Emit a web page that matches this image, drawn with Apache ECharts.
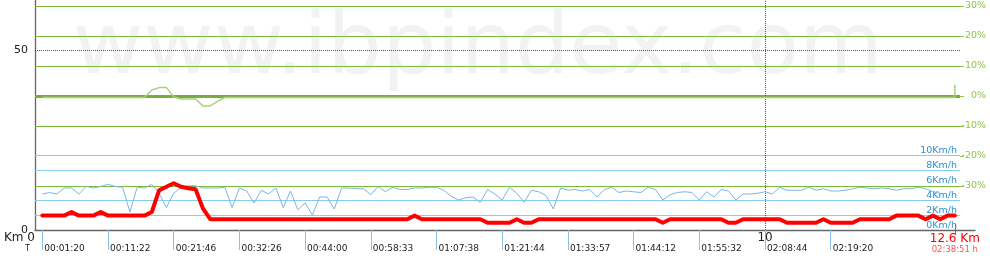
<!DOCTYPE html>
<html><head><meta charset="utf-8">
<script src="https://cdn.jsdelivr.net/npm/echarts@6/dist/echarts.min.js"></script>
<style>html,body{margin:0;padding:0;background:#fff}#c{width:990px;height:270px}</style>
</head><body><div id="c"></div>
<script>
// ---- data ----
const distKm = [
 0.1,0.2,0.3,0.4,0.5,0.6,0.7,0.8,0.9,1.0,
 1.1,1.2,1.3,1.4,1.5,1.6,1.7,1.8,1.9,2.0,
 2.1,2.2,2.3,2.4,2.5,2.6,2.7,2.8,2.9,3.0,
 3.1,3.2,3.3,3.4,3.5,3.6,3.7,3.8,3.9,4.0,
 4.1,4.2,4.3,4.4,4.5,4.6,4.7,4.8,4.9,5.0,
 5.1,5.2,5.3,5.4,5.5,5.6,5.7,5.8,5.9,6.0,
 6.1,6.2,6.3,6.4,6.5,6.6,6.7,6.8,6.9,7.0,
 7.1,7.2,7.3,7.4,7.5,7.6,7.7,7.8,7.9,8.0,
 8.1,8.2,8.3,8.4,8.5,8.6,8.7,8.8,8.9,9.0,
 9.1,9.2,9.3,9.4,9.5,9.6,9.7,9.8,9.9,10.0,
 10.1,10.2,10.3,10.4,10.5,10.6,10.7,10.8,10.9,11.0,
 11.1,11.2,11.3,11.4,11.5,11.6,11.7,11.8,11.9,12.0,
 12.1,12.2,12.3,12.4,12.5,12.6
];
const altitudeM = [
 4,4,4,4,5,4,4,4,5,4,
 4,4,4,4,4,5,11,12,13,12,
 11.6,11.3,6,3,3,3,3,3,3,3,
 3,3,3,3,3,3,3,3,3,3,
 3,3,3,3,3,3,3,3,3,3,
 3,4,3,3,3,3,3,3,3,3,
 3,2,2,2,2,3,2,2,3,3,
 3,3,3,3,3,3,3,3,3,3,
 3,3,3,3,3,2,3,3,3,3,
 3,3,3,3,2,2,3,3,3,3,
 3,3,2,2,2,2,2,3,2,2,
 2,2,3,3,3,3,3,4,4,4,
 4,3,4,3,4,4
];
const speedKmh = [
 4.8,5.0,4.8,5.6,5.6,4.8,5.8,5.6,5.8,6.1,
 5.8,5.7,2.4,5.7,5.6,6.1,4.9,3.0,4.9,5.7,
 5.9,5.9,5.6,5.6,5.6,5.7,3.0,5.6,5.2,3.6,
 5.3,4.8,5.6,3.0,5.2,2.7,3.6,2.0,4.4,4.4,
 2.8,5.6,5.6,5.5,5.5,4.7,5.8,5.1,5.7,5.4,
 5.4,5.6,5.6,5.7,5.7,5.3,4.5,4.0,4.3,4.4,
 3.7,5.4,4.8,4.0,5.7,4.9,3.7,5.3,5.1,4.6,
 2.8,5.6,5.3,5.4,5.2,5.4,4.4,5.4,5.7,5.0,
 5.2,5.1,5.0,5.7,5.4,4.0,4.7,5.0,5.1,5.0,
 4.0,5.1,4.4,5.4,5.2,4.0,4.8,4.8,4.9,5.1,
 4.8,5.7,5.3,5.3,5.3,5.7,5.3,5.5,5.2,5.2,
 5.3,5.5,5.7,5.6,5.5,5.6,5.5,5.3,5.5,5.5,
 5.7,5.5,5.1,4.9
];
const gradKm  = [0.1, 1.5, 1.6, 1.7, 1.8, 1.9, 2.0, 2.2, 2.3, 2.4, 2.5, 2.6, 12.6, 12.6];
const gradPct = [-0.5,-0.5, 2.0, 2.8, 2.8,-0.3,-1.0,-1.0,-3.3,-3.3,-1.8,-0.5,-0.5, 3.7];

const altTicks   = [0, 50];
const gradTicks  = [30, 20, 10, 0, -10, -20, -30];
const speedTicks = [0, 2, 4, 6, 8, 10];
const kmTicks    = [0, 10];
const timeKm     = [0.1, 1.0, 1.9, 2.8, 3.7, 4.6, 5.5, 6.4, 7.3, 8.2, 9.1, 10.0, 10.9];
const timeLabels = ['00:01:20','00:11:22','00:21:46','00:32:26','00:44:00','00:58:33','01:07:38',
                    '01:21:44','01:33:57','01:44:12','01:55:32','02:08:44','02:19:20'];
const totalKm = 12.6;
const totalDistLabel = '12.6 Km';
const totalTimeLabel = '02:38:51 h';

// ---- chart ----
const FONT = 'DejaVu Sans';
const X_MAX = 12.671;
const chart = echarts.init(document.getElementById('c'), null, {renderer:'canvas'});
const noLine = {show:false, onZero:false};
const option = {
  animation:false,
  backgroundColor:'#ffffff',
  grid:[{left:35,right:30,top:0,bottom:40},{left:35,right:15,top:0,bottom:40}],
  xAxis:[
    {type:'value',gridIndex:0,position:'bottom',min:0,max:X_MAX,
     axisLine:noLine,axisTick:{show:false},splitLine:{show:false},
     axisLabel:{customValues:kmTicks,margin:2,fontSize:12,fontFamily:FONT,color:'#222',
       formatter:v=> v===0 ? '{k|Km 0}' : '{n|'+v+'}',
       rich:{k:{padding:[0,31,0,0],fontSize:12,fontFamily:FONT,color:'#222'},
             n:{fontSize:12,fontFamily:FONT,color:'#222'}}}},
    {type:'value',gridIndex:1,position:'bottom',min:0,max:1,
     axisLine:{show:true,onZero:false,lineStyle:{color:'#666',width:1.3}},axisTick:{show:false},axisLabel:{show:false},splitLine:{show:false}},
    {type:'value',gridIndex:0,position:'bottom',min:0,max:X_MAX,
     axisLine:noLine,splitLine:{show:false},
     axisTick:{show:true,customValues:timeKm,length:20,lineStyle:{color:'#8cc0e6',width:1}},
     axisLabel:{customValues:timeKm,margin:14,align:'left',verticalAlign:'top',padding:[0,0,0,2],
       fontSize:9,fontFamily:FONT,color:'#222',
       formatter:v=>{const i=timeKm.findIndex(t=>Math.abs(t-v)<1e-6);return i>=0?timeLabels[i]:'';}}},
    {type:'value',gridIndex:0,position:'bottom',offset:-6,min:0,max:X_MAX,
     axisLine:{show:true,onZero:false,lineStyle:{color:'rgba(0,0,0,0)'}},splitLine:{show:false},
     axisTick:{show:true,customValues:[totalKm],length:11,lineStyle:{color:'#ff3030',width:1}},
     axisLabel:{customValues:[totalKm],margin:8,
       formatter:()=>'{a|'+totalDistLabel+'}\n{b|'+totalTimeLabel+'}',
       rich:{a:{fontSize:12,lineHeight:13,fontFamily:FONT,color:'#ff0000'},
             b:{fontSize:8.5,lineHeight:10,fontFamily:FONT,color:'#ff5050'}}}}
  ],
  yAxis:[
    {type:'value',gridIndex:0,position:'left',min:0,max:230/3.6,
     axisLine:{show:true,onZero:false,lineStyle:{color:'#666',width:1.3}},axisTick:{show:false},splitLine:{show:false},
     axisLabel:{customValues:altTicks,margin:7,fontSize:11,fontFamily:FONT,color:'#222'}},
    {type:'value',gridIndex:0,position:'right',min:-44.667,max:32,
     axisLine:noLine,splitLine:{show:false},
     axisTick:{show:true,customValues:gradTicks,length:4,lineStyle:{color:'#8dc63f'}},
     axisLabel:{customValues:gradTicks,margin:26,align:'right',fontSize:9.5,fontFamily:FONT,color:'#8dc63f',
       formatter:v=>v+'%'}},
    {type:'value',gridIndex:0,position:'right',min:0,max:230/7.5,
     axisLine:noLine,axisTick:{show:false},splitLine:{show:false},
     axisLabel:{customValues:speedTicks,margin:-3,align:'right',verticalAlign:'bottom',lineHeight:8,
       fontSize:9.5,fontFamily:FONT,color:'#2f8fd6',formatter:v=>v+'Km/h'}},
    {type:'value',gridIndex:1,show:false,min:0,max:1}
  ],
  graphic:[
    {type:'text',left:73,top:8,z:-10,silent:true,
     style:{text:'www.ibpindex.com',font:'86px "DejaVu Sans"',fill:'#f2f2f2'}},
    {type:'text',left:25,top:245,silent:true,
     style:{text:'T',font:'8px "DejaVu Sans"',fill:'#222'}}
  ],
  series:[
    {type:'line',name:'gradLines',xAxisIndex:0,yAxisIndex:1,data:[],silent:true,
     markLine:{silent:true,z:1,symbol:['none','none'],label:{show:false},
       data:gradTicks.filter(v=>v!==-20).map(v=>({yAxis:v,lineStyle:{type:'solid',color:v===0?'#7aab3c':'#7cba3a',width:v===0?3:1.2}}))}},
    {type:'line',name:'speedLines',xAxisIndex:0,yAxisIndex:2,data:[],silent:true,
     markLine:{silent:true,z:1,symbol:['none','none'],label:{show:false},
       data:speedTicks.filter(v=>v>0&&v!==6).map(v=>({yAxis:v,lineStyle:{type:'solid',color:'#88ccf0',width:1.2}}))}},
    {type:'line',name:'refLines',xAxisIndex:0,yAxisIndex:0,data:[],silent:true,
     markLine:{silent:true,z:1,symbol:['none','none'],label:{show:false},
       data:[{yAxis:50,lineStyle:{type:'dotted',color:'#555',width:1}},
             {xAxis:10,lineStyle:{type:'dotted',color:'#555',width:1}}]}},
    {type:'line',name:'gradient',xAxisIndex:0,yAxisIndex:1,z:3,symbol:'none',silent:true,
     data:gradKm.map((k,i)=>[k,gradPct[i]]),lineStyle:{color:'#a6d27c',width:1.5}},
    {type:'line',name:'speed',xAxisIndex:0,yAxisIndex:2,z:3,symbol:'none',silent:true,
     data:speedKmh.map((s,i)=>[distKm[i],s]),lineStyle:{color:'#7db5df',width:1}},
    {type:'line',name:'altitude',xAxisIndex:0,yAxisIndex:0,z:4,symbol:'none',silent:true,
     data:altitudeM.map((a,i)=>[distKm[i],a]),lineStyle:{color:'#ff0000',width:4,join:'round',cap:'round'}}
  ]
};
chart.setOption(option);
</script></body></html>
